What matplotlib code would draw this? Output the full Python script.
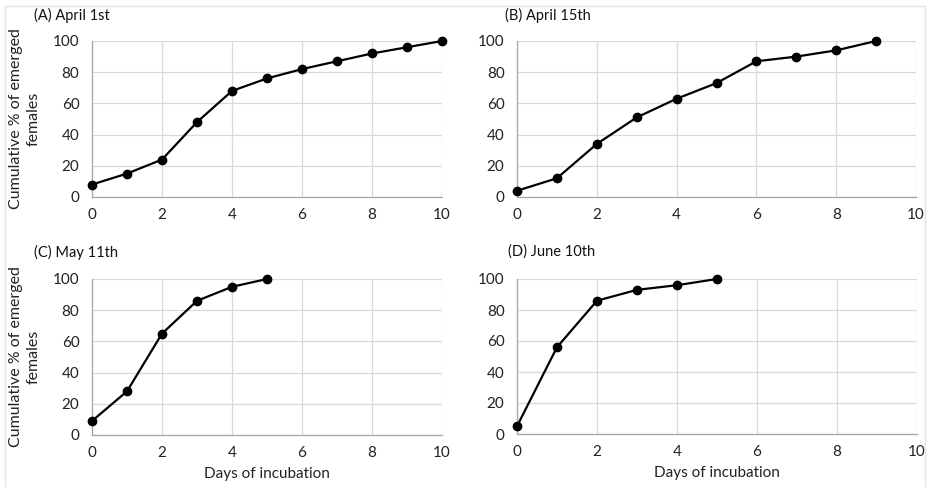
import matplotlib
matplotlib.use("Agg")
import matplotlib.pyplot as plt
from matplotlib.patches import Rectangle

plt.rcParams['font.family'] = ['Lato', 'DejaVu Sans']

# cumulative % of emerged females per day of incubation
days_a = [0, 1, 2, 3, 4, 5, 6, 7, 8, 9, 10]
pct_a = [8, 15, 24, 48, 68, 76, 82, 87, 92, 96, 100]
days_b = [0, 1, 2, 3, 4, 5, 6, 7, 8, 9]
pct_b = [4, 12, 34, 51, 63, 73, 87, 90, 94, 100]
days_c = [0, 1, 2, 3, 4, 5]
pct_c = [9, 28, 65, 86, 95, 100]
days_d = [0, 1, 2, 3, 4, 5]
pct_d = [5, 56, 86, 93, 96, 100]

titles = ["(A) April 1st", "(B) April 15th", "(C) May 11th", "(D) June 10th"]
x_ticks = [0, 2, 4, 6, 8, 10]
y_ticks = [0, 20, 40, 60, 80, 100]

fig = plt.figure(figsize=(9.27, 4.87), dpi=100)
W, H = 927, 487

# faint outer chart-area border
fig.patches.append(Rectangle((5 / W, -0.01), (925 - 5) / W, 1 - 6 / H + 0.01,
                             transform=fig.transFigure, fill=False,
                             edgecolor='#e3e3e3', linewidth=1.0))

# panel boxes in pixels: left, right, top(100), bottom(0)
boxes = [(92, 442, 41, 197), (517, 916, 41, 197),
         (92, 442, 279, 435), (517, 917, 279, 434)]
title_pos = [(34, 15), (505, 15), (34, 252), (508, 252)]
series = [(days_a, pct_a), (days_b, pct_b), (days_c, pct_c), (days_d, pct_d)]

for i, ((l, r, t, b), (xs, ys), title, (tx, ty)) in enumerate(
        zip(boxes, series, titles, title_pos)):
    ax = fig.add_axes([l / W, 1 - b / H, (r - l) / W, (b - t) / H])
    ax.set_xlim(0, 10)
    ax.set_ylim(0, 100)
    ax.set_xticks(x_ticks)
    ax.set_yticks(y_ticks)
    ax.grid(True, color='#d9d9d9', linewidth=0.9)
    ax.set_axisbelow(True)
    for side in ['top', 'right']:
        ax.spines[side].set_visible(False)
    for side in ['left', 'bottom']:
        ax.spines[side].set_color('#a6a6a6')
        ax.spines[side].set_linewidth(0.9)
    ax.tick_params(length=0, labelsize=11, colors='#222222', pad=8)
    ax.tick_params(axis='y', pad=9)
    ax.plot(xs, ys, color='black', linewidth=1.6, marker='o', markersize=6,
            clip_on=False, zorder=5)
    fig.text(tx / W, 1 - ty / H, title, fontsize=10.5, ha='left', va='center',
             color='#111111')
    if i % 2 == 0:
        ax.set_ylabel("Cumulative % of emerged\nfemales", fontsize=11.5,
                      linespacing=1.3, labelpad=9, color='#222222')
    if i >= 2:
        ax.set_xlabel("Days of incubation", fontsize=11, labelpad=5,
                      color='#222222')

fig.savefig("out.png", dpi=100, facecolor='white')
